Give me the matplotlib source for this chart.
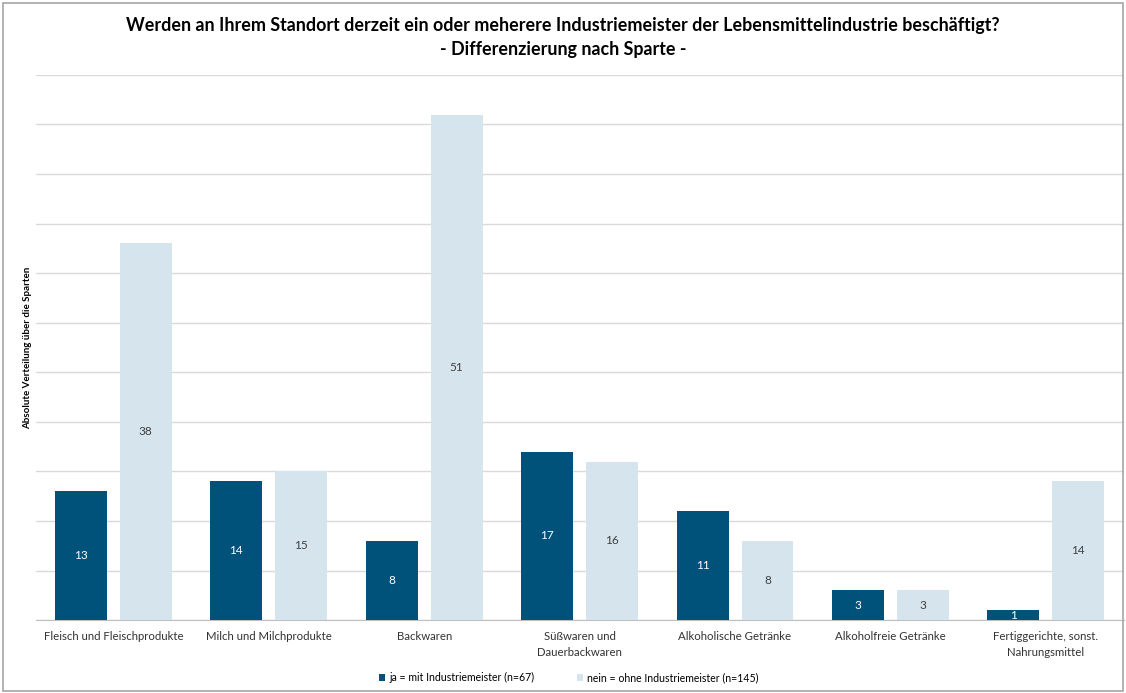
import matplotlib.pyplot as plt
import numpy as np
from matplotlib.patches import Rectangle

plt.rcParams['font.family'] = ['Lato', 'DejaVu Sans']

# Sparten und Antworten
sparten = ["Fleisch und Fleischprodukte", "Milch und Milchprodukte", "Backwaren",
           "Süßwaren und\nDauerbackwaren", "Alkoholische Getränke",
           "Alkoholfreie Getränke", "Fertiggerichte, sonst.\nNahrungsmittel"]
ja = [13, 14, 8, 17, 11, 3, 1]
nein = [38, 15, 51, 16, 8, 3, 14]

dark = "#00527a"
light = "#d6e4ee"

fig = plt.figure(figsize=(11.26, 6.93), dpi=100)
ax = fig.add_axes([35.6 / 1126, 0.105, 1088 / 1126, 0.787])

x = np.arange(len(sparten))
w = 0.334
off = 0.209
b1 = ax.bar(x - off, ja, w, color=dark, label="ja = mit Industriemeister (n=67)", zorder=3)
b2 = ax.bar(x + off, nein, w, color=light, label="nein = ohne Industriemeister (n=145)", zorder=3)

for bars, col in ((b1, "white"), (b2, "#404040")):
    for r in bars:
        h = r.get_height()
        ax.text(r.get_x() + r.get_width() / 2, h / 2, str(int(h)), ha="center", va="center",
                fontsize=8.5, color=col, zorder=4)

ax.set_xlim(-0.5, len(sparten) - 0.5)
ax.set_ylim(0, 55)
ax.set_yticks(np.arange(0, 56, 5))
ax.set_yticklabels([])
ax.tick_params(axis="y", length=0)
ax.tick_params(axis="x", length=0, pad=8)
ax.set_xticks(x)
ax.set_xticklabels(sparten, fontsize=8.2, color="#333333", linespacing=1.5)
ax.grid(axis="y", color="#d9d9d9", linewidth=1, zorder=0)
for s in ["top", "right", "left"]:
    ax.spines[s].set_visible(False)
ax.spines["bottom"].set_color("#bfbfbf")

ax.set_ylabel("Absolute Verteilung über die Sparten", fontsize=7, fontweight="bold", va="center")
ax.yaxis.set_label_coords(-0.007, 0.5)

fig.suptitle("Werden an Ihrem Standort derzeit ein oder meherere Industriemeister der Lebensmittelindustrie beschäftigt?\n- Differenzierung nach Sparte -",
             fontsize=12.9, fontweight="bold", y=0.975, linespacing=1.45)

fig.legend(handles=[b1, b2], loc="center", bbox_to_anchor=(0.505, 0.022), ncol=2, frameon=False,
           fontsize=7.6, handlelength=0.6, handleheight=0.6, columnspacing=4, handletextpad=0.4)

# Rahmen um die Grafik
fig.patches.append(Rectangle((0.003, 0.003), 0.994, 0.992, transform=fig.transFigure,
                             fill=False, edgecolor="#a6a6a6", linewidth=1.2))

fig.savefig("out.png", dpi=100)
